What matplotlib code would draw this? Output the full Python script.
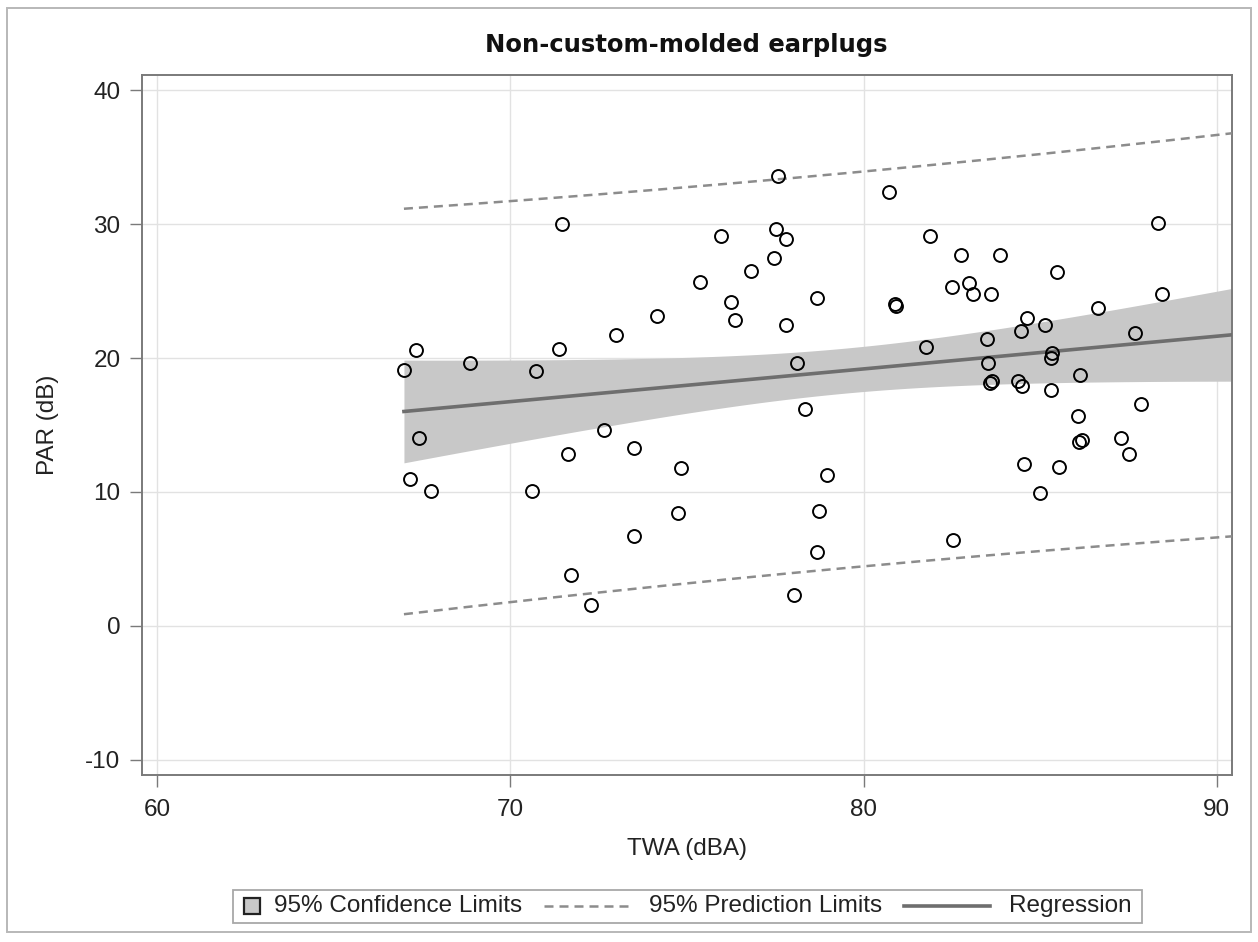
import numpy as np
import matplotlib
matplotlib.use("Agg")
import matplotlib.pyplot as plt
from matplotlib.patches import Rectangle
from matplotlib.lines import Line2D

plt.rcParams["axes.unicode_minus"] = False

# ---------------- data ----------------
twa = [66.99, 67.33, 67.42, 67.16, 67.76, 68.86, 71.46, 71.38, 70.73, 71.63,
       70.61, 71.72, 72.28, 72.99, 72.65, 73.50, 73.50, 74.15, 74.83, 74.75,
       75.37, 75.96, 76.25, 76.36, 76.81, 77.58, 77.52, 77.80, 77.46, 77.80,
       78.11, 78.03, 78.34, 78.68, 78.96, 78.74, 78.68, 80.72, 80.89, 80.92,
       81.77, 81.88, 82.76, 82.50, 82.53, 82.98, 83.10, 83.61, 83.86, 83.49,
       83.52, 83.63, 83.58, 84.37, 84.48, 84.46, 84.62, 84.54, 85.13, 85.33,
       85.30, 85.30, 85.47, 85.53, 84.99, 86.12, 86.07, 86.10, 86.18, 86.63,
       87.29, 87.51, 87.68, 87.85, 88.33, 88.45]
par = [19.1, 20.6, 14.0, 11.0, 10.1, 19.6, 30.0, 20.7, 19.0, 12.8,
       10.1, 3.8, 1.6, 21.7, 14.6, 13.3, 6.7, 23.1, 11.8, 8.4,
       25.7, 29.1, 24.2, 22.8, 26.5, 33.6, 29.6, 28.9, 27.5, 22.5,
       19.6, 2.3, 16.2, 24.5, 11.3, 8.6, 5.5, 32.4, 24.0, 23.9,
       20.8, 29.1, 27.7, 25.3, 6.4, 25.6, 24.8, 24.8, 27.7, 21.4,
       19.6, 18.3, 18.1, 18.3, 17.9, 22.0, 23.0, 12.1, 22.5, 20.4,
       20.0, 17.6, 26.4, 11.9, 9.9, 18.7, 15.7, 13.7, 13.9, 23.7,
       14.0, 12.8, 21.9, 16.6, 30.1, 24.8]

title = "Non-custom-molded earplugs"
x_label = "TWA (dBA)"
y_label = "PAR (dB)"
x_ticks = [60, 70, 80, 90]
y_ticks = [-10, 0, 10, 20, 30, 40]
legend_labels = ["95% Confidence Limits", "95% Prediction Limits", "Regression"]

# ---------------- regression fit ----------------
x = np.array(twa)
y = np.array(par)
n = len(x)
slope, intercept = np.polyfit(x, y, 1)
resid = y - (intercept + slope * x)
s = np.sqrt(np.sum(resid ** 2) / (n - 2))
xbar = x.mean()
sxx = np.sum((x - xbar) ** 2)
tval = 1.9925

XMIN, XMAX = 59.575, 90.43
YMIN, YMAX = -11.12, 41.12

xf = np.linspace(x.min(), XMAX, 300)
yf = intercept + slope * xf
se_mean = s * np.sqrt(1.0 / n + (xf - xbar) ** 2 / sxx)
se_pred = s * np.sqrt(1.0 + 1.0 / n + (xf - xbar) ** 2 / sxx)

# ---------------- style ----------------
BAND = "#c8c8c8"
REG = "#6e6e6e"
PRED = "#8c8c8c"
SPINE = "#7a7a7a"
GRID = "#e2e2e2"
TXT = "#222222"
FONT = "Liberation Sans"
FS = 17.5

W, H = 1258, 942
fig = plt.figure(figsize=(W / 100, H / 100), dpi=100)
fig.patch.set_facecolor("white")

def fx(px):
    return px / W

def fy(py):
    return 1 - py / H

ax = fig.add_axes([fx(142), fy(775), fx(1232) - fx(142), fy(75) - fy(775)])
ax.set_xlim(XMIN, XMAX)
ax.set_ylim(YMIN, YMAX)

ax.fill_between(xf, yf - tval * se_mean, yf + tval * se_mean,
                color=BAND, linewidth=0, zorder=2)
ax.plot(xf, yf - tval * se_pred, color=PRED, lw=1.8,
        dashes=(3.6, 2.4), zorder=3)
ax.plot(xf, yf + tval * se_pred, color=PRED, lw=1.8,
        dashes=(3.6, 2.4), zorder=3)
ax.plot(xf, yf, color=REG, lw=2.6, zorder=4)
ax.plot(x, y, linestyle="none", marker="o", markersize=9.3,
        markerfacecolor="none", markeredgecolor="black",
        markeredgewidth=1.4, zorder=5)

ax.set_xticks(x_ticks)
ax.set_yticks(y_ticks)
ax.grid(True, color=GRID, lw=1.0, zorder=0)
ax.set_axisbelow(True)
for sp in ax.spines.values():
    sp.set_color(SPINE)
    sp.set_linewidth(1.4)
ax.tick_params(axis="both", direction="out", length=8.5, width=1.0,
               color=SPINE, labelsize=FS, labelcolor=TXT)
ax.tick_params(axis="x", pad=9)
ax.tick_params(axis="y", pad=7)
for lab in ax.get_xticklabels() + ax.get_yticklabels():
    lab.set_family(FONT)

ax.set_xlabel(x_label, fontsize=FS, family=FONT, color=TXT)
ax.set_ylabel(y_label, fontsize=FS, family=FONT, color=TXT)
ax.xaxis.set_label_coords(0.5, (775 - 838) / 700)
ax.yaxis.set_label_coords((59 - 142) / 1090, 0.5)

fig.text(fx(686.5), fy(45), title, ha="center", va="center",
         fontsize=17.5, fontweight="bold", family="DejaVu Sans",
         color="#111111")

# outer frame
fig.add_artist(Rectangle((fx(7), fy(932)), fx(1251) - fx(7), fy(8) - fy(932),
                         transform=fig.transFigure, fill=False,
                         edgecolor="#b8b8b8", lw=1.4))

# ---------------- legend (built manually) ----------------
fig.canvas.draw()
renderer = fig.canvas.get_renderer()
ly = 906
items = []
cur = 0.0
sq_w = 16
items.append(("sq", cur)); cur += sq_w + 14
t1 = fig.text(0, 0, legend_labels[0], fontsize=FS, family=FONT, color=TXT,
              va="center", ha="left")
w1 = t1.get_window_extent(renderer).width
items.append(("t1", cur)); cur += w1 + 22
items.append(("dash", cur)); cur += 86 + 19
t2 = fig.text(0, 0, legend_labels[1], fontsize=FS, family=FONT, color=TXT,
              va="center", ha="left")
w2 = t2.get_window_extent(renderer).width
items.append(("t2", cur)); cur += w2 + 22
items.append(("solid", cur)); cur += 86 + 19
t3 = fig.text(0, 0, legend_labels[2], fontsize=FS, family=FONT, color=TXT,
              va="center", ha="left")
w3 = t3.get_window_extent(renderer).width
items.append(("t3", cur)); cur += w3
pad = 11
total = cur + 2 * pad
left = 687.5 - total / 2
box_top, box_bot = 890, 923
fig.add_artist(Rectangle((fx(left), fy(box_bot)), total / W, (box_bot - box_top) / H,
                         transform=fig.transFigure, fill=False,
                         edgecolor="#a8a8a8", lw=1.3))
start = left + pad
pos = dict(items)
fig.add_artist(Rectangle((fx(start + pos["sq"]), fy(ly + 8)), sq_w / W, sq_w / H,
                         transform=fig.transFigure, facecolor=BAND,
                         edgecolor="#222222", lw=1.6))
t1.set_position((fx(start + pos["t1"]), fy(ly)))
t2.set_position((fx(start + pos["t2"]), fy(ly)))
t3.set_position((fx(start + pos["t3"]), fy(ly)))
fig.add_artist(Line2D([fx(start + pos["dash"]), fx(start + pos["dash"] + 86)],
                      [fy(ly), fy(ly)], transform=fig.transFigure,
                      color=PRED, lw=1.8, dashes=(3.6, 2.4)))
fig.add_artist(Line2D([fx(start + pos["solid"]), fx(start + pos["solid"] + 86)],
                      [fy(ly), fy(ly)], transform=fig.transFigure,
                      color=REG, lw=2.6))

fig.savefig("out.png", dpi=100, facecolor="white")
